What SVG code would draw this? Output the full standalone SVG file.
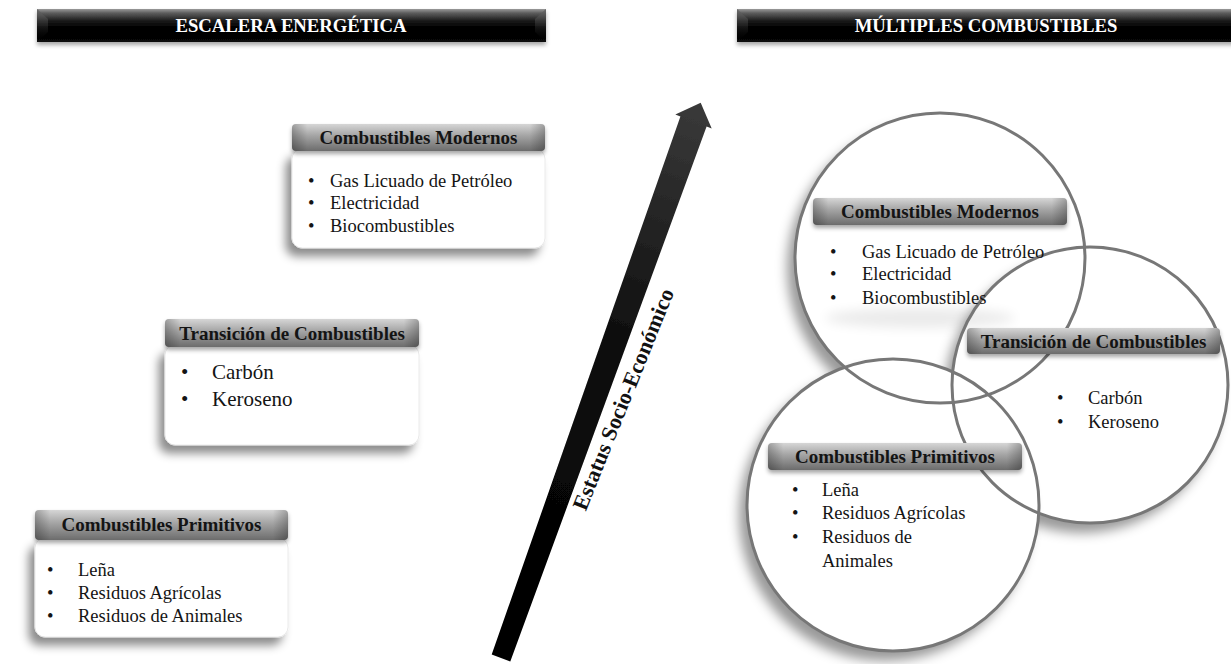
<svg xmlns="http://www.w3.org/2000/svg" width="1231" height="664" viewBox="0 0 1231 664">
  <defs>
    <linearGradient id="titleGrad" x1="0" y1="0" x2="0" y2="1">
      <stop offset="0" stop-color="#9a9a9a"/>
      <stop offset="0.12" stop-color="#5e5e5e"/>
      <stop offset="0.35" stop-color="#1c1c1c"/>
      <stop offset="0.55" stop-color="#000"/>
      <stop offset="1" stop-color="#080808"/>
    </linearGradient>
    <linearGradient id="bevelGrad" x1="0" y1="0" x2="0" y2="1">
      <stop offset="0" stop-color="#6a6a6a"/>
      <stop offset="1" stop-color="#000" stop-opacity="0"/>
    </linearGradient>
    <linearGradient id="headGrad" x1="0" y1="0" x2="0" y2="1">
      <stop offset="0" stop-color="#d6d6d6"/>
      <stop offset="0.4" stop-color="#a8a8a8"/>
      <stop offset="1" stop-color="#6c6c6c"/>
    </linearGradient>
    <linearGradient id="headEdge" x1="0" y1="0" x2="1" y2="0">
      <stop offset="0" stop-color="#000" stop-opacity="0.25"/>
      <stop offset="0.06" stop-color="#000" stop-opacity="0"/>
      <stop offset="0.94" stop-color="#000" stop-opacity="0"/>
      <stop offset="1" stop-color="#000" stop-opacity="0.25"/>
    </linearGradient>
    <linearGradient id="arrowGrad" gradientUnits="userSpaceOnUse" x1="501" y1="658" x2="701" y2="103">
      <stop offset="0" stop-color="#000"/>
      <stop offset="0.55" stop-color="#0c0c0c"/>
      <stop offset="1" stop-color="#3a3a3a"/>
    </linearGradient>
    <filter id="boxShadow" x="-20%" y="-20%" width="140%" height="150%">
      <feDropShadow dx="-6" dy="8" stdDeviation="5" flood-color="#000" flood-opacity="0.45"/>
    </filter>
    <filter id="barShadow" x="-5%" y="-30%" width="110%" height="180%">
      <feDropShadow dx="0" dy="3" stdDeviation="2" flood-color="#000" flood-opacity="0.35"/>
    </filter>
    <filter id="ringShadow" x="-20%" y="-20%" width="140%" height="140%">
      <feDropShadow dx="-8" dy="10" stdDeviation="6" flood-color="#000" flood-opacity="0.4"/>
    </filter>
    <filter id="haze" x="-30%" y="-80%" width="160%" height="260%">
      <feGaussianBlur stdDeviation="6"/>
    </filter>
    <filter id="soft" x="-10%" y="-10%" width="120%" height="120%">
      <feGaussianBlur stdDeviation="0.6"/>
    </filter>
  </defs>
  <style>
    .title { font-family: "Liberation Serif", "Times New Roman", serif; font-weight: bold; font-size: 18.7px; fill: #ffffff; text-anchor: middle; }
    .head { font-family: "Liberation Serif", "Times New Roman", serif; font-weight: bold; font-size: 19px; fill: #141414; text-anchor: middle; }
    .item { font-family: "Liberation Serif", "Times New Roman", serif; font-size: 18.5px; fill: #141414; }
    .item-lg { font-family: "Liberation Serif", "Times New Roman", serif; font-size: 21px; fill: #141414; }
    .axis { font-family: "Liberation Serif", "Times New Roman", serif; font-weight: bold; font-size: 22px; fill: #111; text-anchor: middle; }
    .bar { fill: url(#titleGrad); filter: url(#barShadow); }
    .bevel { fill: url(#bevelGrad); }
    .hbar { fill: url(#headGrad); filter: url(#barShadow); }
    .hedge { fill: url(#headEdge); }
    .body { fill: #ffffff; stroke: #e4e4e4; stroke-width: 0.8; filter: url(#boxShadow); }
    .disc { fill: #ffffff; filter: url(#ringShadow); }
    .ring { fill: none; stroke: #777777; stroke-width: 3; }
  </style>

  <rect x="0" y="0" width="1231" height="664" fill="#ffffff"/>

  <!-- section titles -->
  <g id="title-escalera">
    <rect class="bar" x="37" y="9" width="509" height="33"/>
    <polygon class="bevel" points="37,9 48,19 48,32 37,42"/>
    <polygon class="bevel" points="546,9 535,19 535,32 546,42"/>
    <text class="title" x="291" y="32">ESCALERA ENERGÉTICA</text>
  </g>
  <g id="title-multiples">
    <rect class="bar" x="737" y="9" width="500" height="33"/>
    <polygon class="bevel" points="737,9 748,19 748,32 737,42"/>
    <text class="title" x="986" y="32">MÚLTIPLES COMBUSTIBLES</text>
  </g>

  <!-- energy ladder: stepped boxes -->
  <g id="ladder-modernos">
    <rect class="body" x="292" y="149" width="253" height="99" rx="10"/>
    <rect class="hbar" x="292" y="124" width="253" height="27" rx="4"/>
    <rect class="hedge" x="292" y="124" width="253" height="27" rx="4"/>
    <text class="head" x="418.5" y="144">Combustibles Modernos</text>
    <text class="item" x="308" y="187">•</text>
    <text class="item" x="330" y="187">Gas Licuado de Petróleo</text>
    <text class="item" x="308" y="209">•</text>
    <text class="item" x="330" y="209">Electricidad</text>
    <text class="item" x="308" y="232">•</text>
    <text class="item" x="330" y="232">Biocombustibles</text>
  </g>

  <g id="ladder-transicion">
    <rect class="body" x="165" y="345" width="254" height="100" rx="10"/>
    <rect class="hbar" x="165" y="319" width="254" height="28" rx="4"/>
    <rect class="hedge" x="165" y="319" width="254" height="28" rx="4"/>
    <text class="head" x="292" y="340">Transición de Combustibles</text>
    <text class="item-lg" x="181" y="379">•</text>
    <text class="item-lg" x="212" y="379">Carbón</text>
    <text class="item-lg" x="181" y="406">•</text>
    <text class="item-lg" x="212" y="406">Keroseno</text>
  </g>

  <g id="ladder-primitivos">
    <rect class="body" x="35" y="538" width="253" height="99" rx="10"/>
    <rect class="hbar" x="35" y="510" width="253" height="30" rx="4"/>
    <rect class="hedge" x="35" y="510" width="253" height="30" rx="4"/>
    <text class="head" x="161.5" y="531">Combustibles Primitivos</text>
    <text class="item" x="47" y="576">•</text>
    <text class="item" x="78" y="576">Leña</text>
    <text class="item" x="47" y="599">•</text>
    <text class="item" x="78" y="599">Residuos Agrícolas</text>
    <text class="item" x="47" y="622">•</text>
    <text class="item" x="78" y="622">Residuos de Animales</text>
  </g>

  <!-- socio-economic axis arrow -->
  <g id="connectors">
    <polygon filter="url(#soft)" fill="url(#arrowGrad)" points="491.7,654.4 510.3,661.6 706.6,126.5 711.7,128.5 700.7,102.8 675.3,114.5 680.4,116.5"/>
    <text class="axis" transform="translate(630,402) rotate(-68)">Estatus Socio-Económico</text>
  </g>

  <!-- overlapping fuel circles: fills and shadows first, outlines on top -->
  <g id="circle-fills">
    <circle class="disc" cx="940" cy="258" r="145"/>
    <circle class="disc" cx="1090" cy="385" r="138"/>
    <circle class="disc" cx="893" cy="505" r="146"/>
  </g>
  <ellipse cx="920" cy="318" rx="95" ry="10" fill="#000" opacity="0.08" filter="url(#haze)"/>
  <g id="circle-rings">
    <circle class="ring" cx="940" cy="258" r="145"/>
    <circle class="ring" cx="1090" cy="385" r="138"/>
    <circle class="ring" cx="893" cy="505" r="146"/>
  </g>

  <g id="multi-modernos">
    <rect class="hbar" x="813" y="198" width="254" height="27" rx="4"/>
    <rect class="hedge" x="813" y="198" width="254" height="27" rx="4"/>
    <text class="head" x="940" y="218">Combustibles Modernos</text>
    <text class="item" x="830" y="258">•</text>
    <text class="item" x="862" y="258">Gas Licuado de Petróleo</text>
    <text class="item" x="830" y="280">•</text>
    <text class="item" x="862" y="280">Electricidad</text>
    <text class="item" x="830" y="304">•</text>
    <text class="item" x="862" y="304">Biocombustibles</text>
  </g>

  <g id="multi-transicion">
    <rect class="hbar" x="967" y="328" width="253" height="26" rx="4"/>
    <rect class="hedge" x="967" y="328" width="253" height="26" rx="4"/>
    <text class="head" x="1093.5" y="347.5">Transición de Combustibles</text>
    <text class="item" x="1057" y="404">•</text>
    <text class="item" x="1088" y="404">Carbón</text>
    <text class="item" x="1057" y="428">•</text>
    <text class="item" x="1088" y="428">Keroseno</text>
  </g>

  <g id="multi-primitivos">
    <rect class="hbar" x="768" y="443" width="254" height="27" rx="4"/>
    <rect class="hedge" x="768" y="443" width="254" height="27" rx="4"/>
    <text class="head" x="895" y="463">Combustibles Primitivos</text>
    <text class="item" x="792" y="496">•</text>
    <text class="item" x="822" y="496">Leña</text>
    <text class="item" x="792" y="519">•</text>
    <text class="item" x="822" y="519">Residuos Agrícolas</text>
    <text class="item" x="792" y="543">•</text>
    <text class="item" x="822" y="543">Residuos de</text>
    <text class="item" x="822" y="567">Animales</text>
  </g>
</svg>
